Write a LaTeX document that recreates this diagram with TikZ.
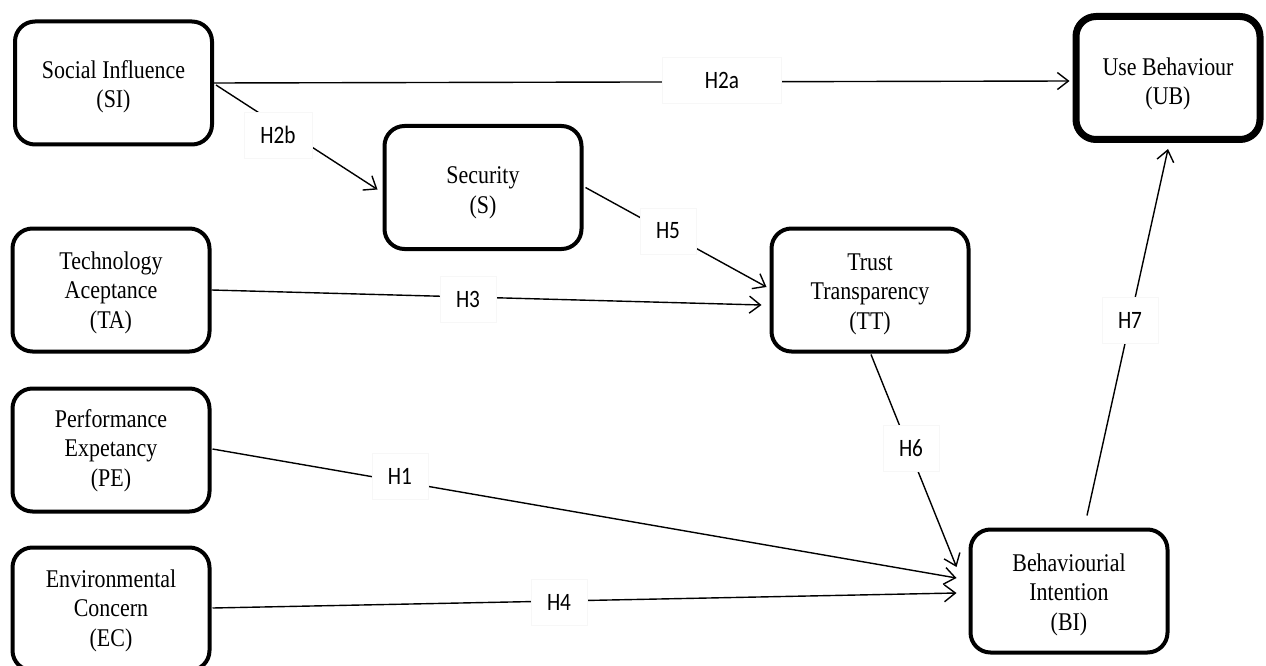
\documentclass[tikz,border=0pt]{standalone}
\usepackage{fontspec}
\usepackage{graphicx}
\setmainfont{Liberation Serif}
\newfontfamily\labfont{Carlito}
\usetikzlibrary{arrows.meta,calc}
\newcommand{\boxtxt}[2][3]{\raisebox{-#1pt}[\height][\depth]{\scalebox{0.86}[1]{\begin{tabular}{@{}c@{}}#2\end{tabular}}}}
\newcommand{\labtxt}[1]{\scalebox{0.85}[1]{#1}}
\tikzset{
 cbox/.style={draw=black, line width=4pt, rounded corners=20pt, minimum width=197pt, minimum height=123pt, inner sep=0pt, font=\fontsize{25.5}{29.5}\selectfont, fill=white},
 hlab/.style={fill=white, draw=black!3, line width=0.4pt, minimum width=56pt, minimum height=46pt, inner sep=0pt, font=\labfont\fontsize{25}{30}\selectfont},
 conn/.style={line width=1.4pt, -{Straight Barb[length=11pt,width=17pt]}},
}
\begin{document}
\begin{tikzpicture}[x=1pt,y=-1pt]
\useasboundingbox (0,0) rectangle (1266,666);
% boxes
\node[cbox] (SI) at (113.5,83) {\boxtxt[4]{Social Influence\\(SI)}};
\node[cbox] (TA) at (111,290) {\boxtxt[3]{Technology\\Aceptance\\(TA)}};
\node[cbox] (PE) at (111,450) {\boxtxt[1]{Performance\\Expetancy\\(PE)}};
\node[cbox] (EC) at (111,609) {\boxtxt[2]{Environmental\\Concern\\(EC)}};
\node[cbox] (S) at (483,187.5) {\boxtxt[5]{Security\\(S)}};
\node[cbox] (TT) at (870,290) {\boxtxt[4]{Trust\\Transparency\\(TT)}};
\node[cbox] (BI) at (1069,591) {\boxtxt[4]{Behaviourial\\Intention\\(BI)}};
\node[cbox, line width=7pt, minimum width=184pt] (UB) at (1168,78) {\boxtxt[6]{Use Behaviour\\(UB)}};
% connectors
\draw[conn] (SI.east) -- ($(UB.west)+(-3,3)$);
\draw[conn] ($(SI.east)+(2,2)$) -- ($(S.west)+(-5,2)$);
\draw[conn] ($(S.east)+(2,0)$) -- ($(TT.west)+(-3,-3)$);
\draw[conn] (TA.east) -- ($(TT.west)+(-8,15)$);
\draw[conn] ($(TT.south)+(1,1)$) -- ($(BI.west)+(-12,-24)$);
\draw[conn] ($(PE.east)+(1,-1)$) -- ($(BI.west)+(-12,-13)$);
\draw[conn] ($(EC.east)+(1,-1)$) -- ($(BI.west)+(-12,2)$);
\draw[conn] ($(BI.north)+(18,-12)$) -- ($(UB.south)+(0,6)$);
% labels
\node[hlab, minimum width=119pt] (l2a) at (722,80) {\labtxt{H2a}};
\node[hlab, minimum width=68pt] (l2b) at (278,135) {\labtxt{H2b}};
\node[hlab] (l5) at (668,231) {\labtxt{H5}};
\node[hlab] (l3) at (468,299) {\labtxt{H3}};
\node[hlab] (l6) at (911,448) {\labtxt{H6}};
\node[hlab] (l1) at (400,476) {\labtxt{H1}};
\node[hlab] (l4) at (559,602) {\labtxt{H4}};
\node[hlab] (l7) at (1130,320) {\labtxt{H7}};
\end{tikzpicture}
\end{document}
